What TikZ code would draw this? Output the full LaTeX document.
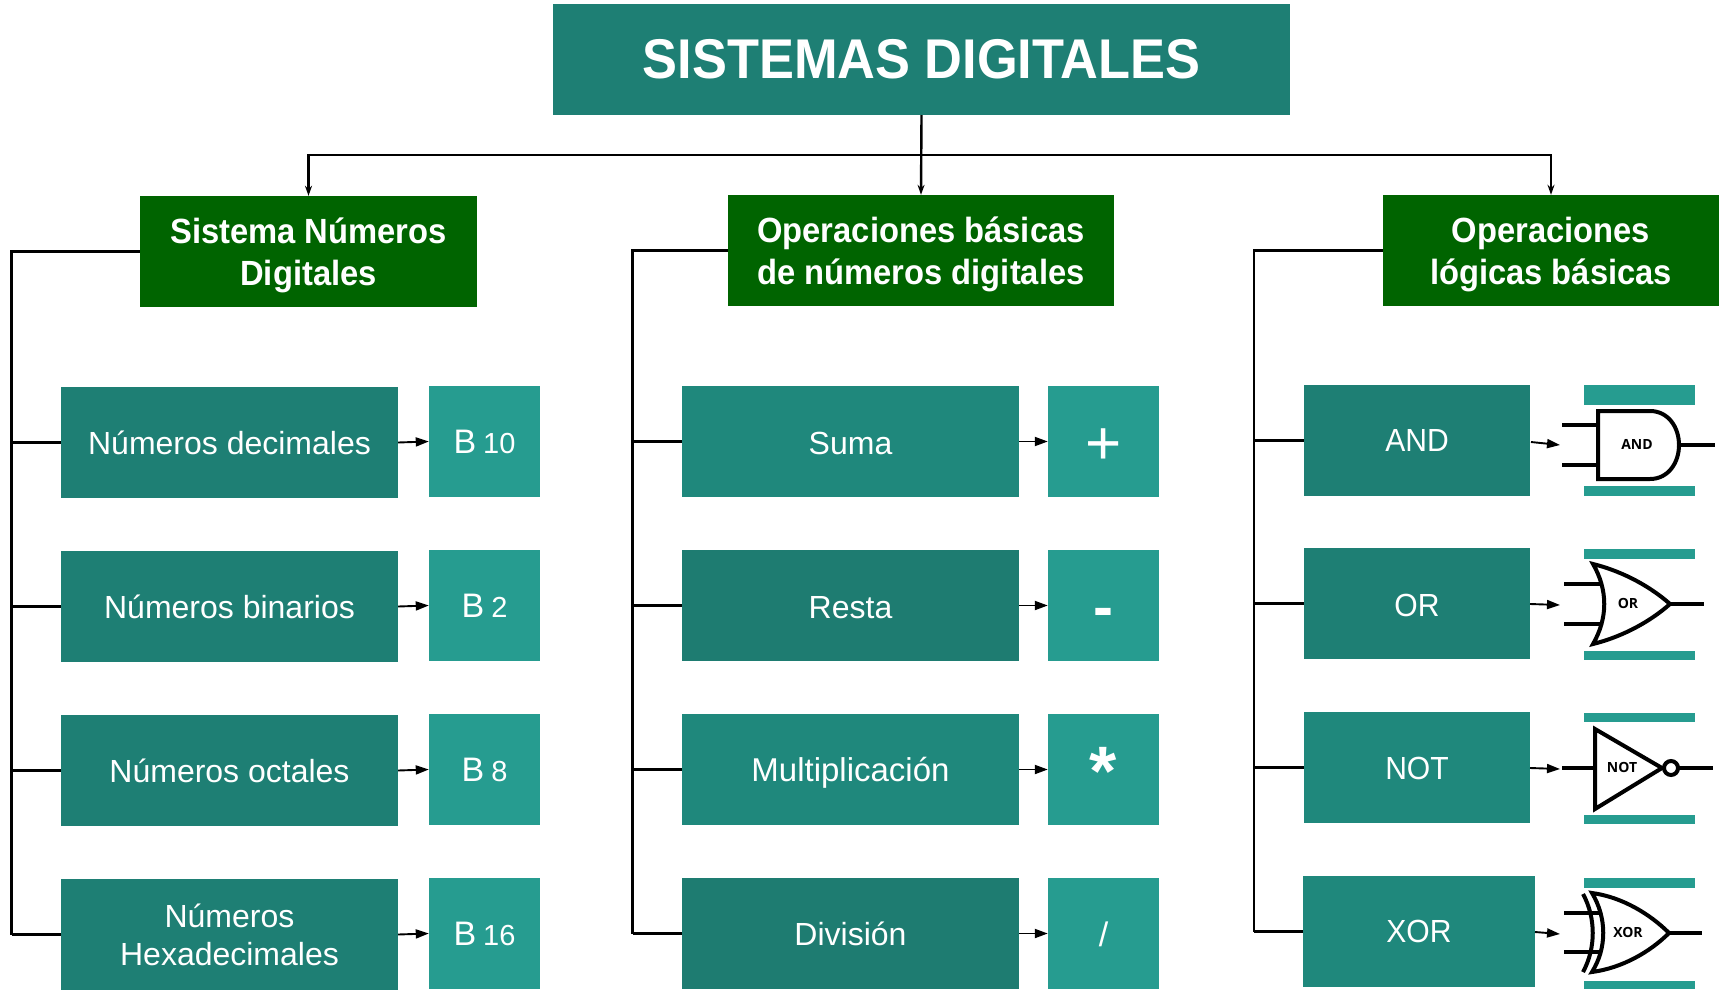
\documentclass[tikz,border=0pt]{standalone}
\usepackage{fontspec}
\setmainfont{Liberation Sans}
\newfontfamily\headf[FakeStretch=0.935]{Liberation Sans Bold}
\newfontfamily\capfam[FakeStretch=0.94]{Liberation Sans}
\newfontfamily\gatef{Open Sans Bold}
\usetikzlibrary{arrows.meta}
\definecolor{tA}{HTML}{1E7F74}
\definecolor{tB}{HTML}{1F887C}
\definecolor{tC}{HTML}{1E7C71}
\definecolor{tL}{HTML}{269C90}
\definecolor{hG}{HTML}{006400}
\tikzset{
 x=1pt,y=-1pt,
 boxbase/.style={inner sep=0pt,text=white,align=center},
 bodyf/.style={font=\fontsize{32}{38}\selectfont},
 capf/.style={font=\capfam\fontsize{32}{38}\selectfont},
 headt/.style={font=\headf\fontsize{35}{42.3}\selectfont},
 titlef/.style={font=\headf\fontsize{56}{60}\selectfont},
 trunk/.style={line width=2.8pt,black},
 branch/.style={line width=2.2pt,black},
 stepar/.style={line width=1.9pt,black,-{Triangle[length=13pt,width=9pt]}},
 headar/.style={line width=2.4pt,black,-{Stealth[length=10pt,width=7pt]}},
 gateline/.style={line width=4pt,black},
 gatelab/.style={inner sep=0pt,font=\gatef\fontsize{14}{14}\selectfont,text=black},
}
\newcommand{\bx}[7]{\node[boxbase,fill=#6,minimum width=#4-#2,minimum height=#5-#3,#7] (#1) at ({(#2+#4)/2},{(#3+#5)/2})}
\newcommand{\basetxt}[2]{\fontsize{34}{34}\selectfont #1\hspace{7pt}{\fontsize{29}{29}\selectfont #2}}
% #1 = distance from the box centre down to the text baseline
\newcommand{\dn}[2]{\raisebox{-#1pt}[0pt][0pt]{#2}}
\newcommand{\twol}[2]{\raisebox{8.5pt}[0pt][0pt]{\begin{tabular}[t]{@{}c@{}}#1\\#2\end{tabular}}}
\begin{document}
\begin{tikzpicture}
\useasboundingbox (0,0) rectangle (1719,990);
% title and headers
\bx{title}{553}{4}{1290}{115}{tA}{titlef} {SISTEMAS DIGITALES};
\bx{hA}{140}{196}{477}{307}{hG}{headt} {\twol{Sistema Números}{Digitales}};
\bx{hB}{728}{195}{1114}{306}{hG}{headt} {\twol{Operaciones básicas}{de números digitales}};
\bx{hC}{1383}{195}{1719}{306}{hG}{headt} {\twol{Operaciones}{lógicas básicas}};
% column 1
\bx{a1}{61}{387}{398}{498}{tA}{bodyf} {\dn{11.7}{Números decimales}};
\bx{a2}{61}{551}{398}{662}{tA}{bodyf} {\dn{11.7}{Números binarios}};
\bx{a3}{61}{715}{398}{826}{tA}{bodyf} {\dn{11.7}{Números octales}};
\bx{a4}{61}{879}{398}{990}{tA}{bodyf} {Números\\Hexadecimales};
\bx{b1}{429}{386}{540}{497}{tL}{bodyf} {\dn{11.5}{\basetxt{B}{10}}};
\bx{b2}{429}{550}{540}{661}{tL}{bodyf} {\dn{11.5}{\basetxt{B}{2}}};
\bx{b3}{429}{714}{540}{825}{tL}{bodyf} {\dn{11.5}{\basetxt{B}{8}}};
\bx{b4}{429}{878}{540}{989}{tL}{bodyf} {\dn{11.5}{\basetxt{B}{16}}};
% column 2
\bx{c1}{682}{386}{1019}{497}{tB}{bodyf} {\dn{12.8}{Suma}};
\bx{c2}{682}{550}{1019}{661}{tC}{bodyf} {\dn{12.5}{Resta}};
\bx{c3}{682}{714}{1019}{825}{tB}{bodyf} {\dn{11.5}{\fontsize{33}{38}\selectfont Multiplicación}};
\bx{c4}{682}{878}{1019}{989}{tC}{bodyf} {\dn{11.5}{División}};
\bx{d1}{1048}{386}{1159}{497}{tL}{bodyf} {\dn{22.5}{\fontsize{62}{62}\selectfont +}};
\bx{d2}{1048}{550}{1159}{661}{tL}{bodyf} {\dn{21.5}{\fontsize{60}{60}\selectfont\bfseries -}};
\bx{d3}{1048}{714}{1159}{825}{tL}{bodyf} {\dn{26}{\fontsize{70}{70}\selectfont\bfseries *}};
\bx{d4}{1048}{878}{1159}{989}{tL}{bodyf} {\dn{13}{\fontsize{34}{34}\selectfont /}};
% column 3
\bx{e1}{1304}{385}{1530}{496}{tA}{capf} {\dn{11}{AND}};
\bx{e2}{1304}{548}{1530}{659}{tA}{capf} {\dn{12.5}{OR}};
\bx{e3}{1304}{712}{1530}{823}{tB}{capf} {\dn{11.8}{NOT}};
\bx{e4}{1303}{876}{1535}{987}{tB}{capf} {\dn{11.2}{XOR}};
% teal strips behind the gate pictures
\bx{f1a}{1584}{385}{1695}{405}{tL}{}{};
\bx{f1b}{1584}{486}{1695}{496}{tL}{}{};
\bx{f2a}{1584}{549}{1695}{559}{tL}{}{};
\bx{f2b}{1584}{651}{1695}{660}{tL}{}{};
\bx{f3a}{1584}{713}{1695}{722}{tL}{}{};
\bx{f3b}{1584}{815}{1695}{824}{tL}{}{};
\bx{f4a}{1584}{878}{1695}{888}{tL}{}{};
\bx{f4b}{1584}{981}{1695}{989}{tL}{}{};
% gates
\draw[gateline] (1562,425)--(1598,425) (1562,465)--(1598,465) (1678,445)--(1715,445);
\draw[gateline] (1650,411) -- (1598,411) -- (1598,479) -- (1650,479) .. controls (1668,479) and (1679,463) .. (1679,445) .. controls (1679,427) and (1668,411) .. (1650,411) -- cycle;
\node[gatelab] (g1) at (1637,444) {AND};
\draw[gateline] (1564,584)--(1603,584) (1564,624)--(1603,624) (1670,604)--(1704,604);
\draw[gateline,line join=miter] (1593,564) .. controls (1608,590) and (1608,618) .. (1593,644) .. controls (1625,636) and (1652,620) .. (1670,604) .. controls (1652,588) and (1625,572) .. (1593,564) -- cycle;
\node[gatelab] (g2) at (1628,603) {OR};
\draw[gateline] (1562,768)--(1595,768) (1678,768)--(1713,768);
\draw[gateline] (1595,729) -- (1595,809) -- (1662,768) -- cycle;
\draw[gateline] (1671,768) circle (7);
\node[gatelab] (g3) at (1622,767) {NOT};
\draw[gateline] (1564,913)--(1600,913) (1564,952)--(1600,952) (1669,933)--(1702,933);
\draw[gateline] (1583,894) .. controls (1596,918) and (1596,948) .. (1583,972);
\draw[gateline] (1592,893) .. controls (1607,918) and (1607,948) .. (1592,972) .. controls (1622,968) and (1650,952) .. (1669,933) .. controls (1650,914) and (1622,897) .. (1592,893) -- cycle;
\node[gatelab] (g4) at (1628,932) {XOR};
% top connectors
\coordinate (bus) at (title.south |- 0,155);
\draw[headar] (title.south) -- (hB.north);
\draw[headar] (bus) -| (hA.north);
\draw[headar] (bus) -| (hC.north);
% trunks
\coordinate (ta) at (11.5,934.5);
\coordinate (tb) at (632.5,933.5);
\coordinate (tc) at (1254,931.5);
\draw[trunk] (hA.west) -| (ta);
\draw[trunk] (hB.west) -| (tb);
\draw[trunk] (hC.west) -| (tc);
\foreach \n in {a1,a2,a3,a4} \draw[branch] (\n.west) -- (ta |- \n.west);
\foreach \n in {c1,c2,c3,c4} \draw[branch] (\n.west) -- (tb |- \n.west);
\foreach \n in {e1,e2,e3,e4} \draw[branch] (\n.west) -- (tc |- \n.west);
% arrows between rows
\foreach \i in {1,2,3,4} {
 \draw[stepar] (a\i.east) -- (b\i.west);
 \draw[stepar] (c\i.east) -- (d\i.west);
}
\coordinate (s1) at (1531,442); \coordinate (t1) at (1560,445);
\coordinate (s2) at (1530,604); \coordinate (t2) at (1560,605);
\coordinate (s3) at (1530,768); \coordinate (t3) at (1560,769);
\coordinate (s4) at (1535,932); \coordinate (t4) at (1560,934);
\foreach \i in {1,2,3,4} \draw[stepar] (s\i) -- (t\i);
\end{tikzpicture}
\end{document}
